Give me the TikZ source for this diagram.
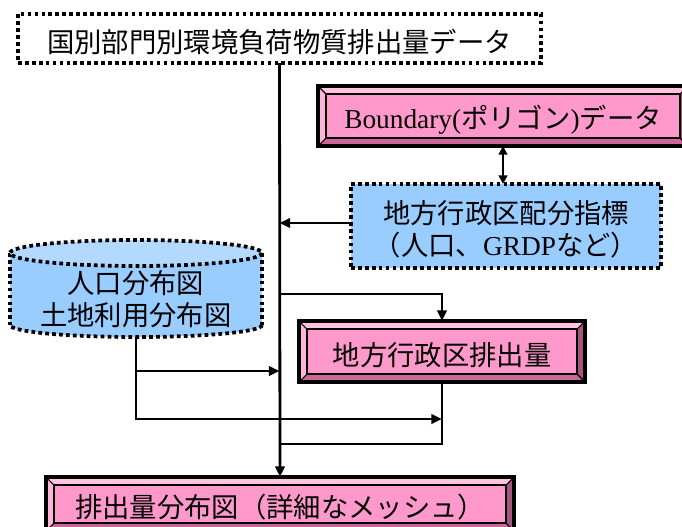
\documentclass[tikz,border=0pt]{standalone}
\usepackage{fontspec}
\setmainfont{Liberation Serif}
\newfontfamily\jp{Noto Sans CJK JP}
\usetikzlibrary{arrows.meta}

\definecolor{pinkfill}{HTML}{FF99CC}
\definecolor{bevtop}{HTML}{FFC2E0}
\definecolor{bevleft}{HTML}{FFB3D9}
\definecolor{bevbot}{HTML}{CC6699}
\definecolor{bevright}{HTML}{A65480}
\definecolor{bluefill}{HTML}{99CCFF}
\definecolor{bluetop}{HTML}{B3D9FF}

\newcommand{\bv}{6pt}
\newcommand{\dn}[1]{\raisebox{-2.5pt}[\height][\depth]{#1}}

\newcommand{\bevelframe}[1]{%
  \fill[bevtop] (#1.north west) -- (#1.north east) -- ([xshift=-\bv,yshift=-\bv]#1.north east) -- ([xshift=\bv,yshift=-\bv]#1.north west) -- cycle;
  \fill[bevleft] (#1.north west) -- ([xshift=\bv,yshift=-\bv]#1.north west) -- ([xshift=\bv,yshift=\bv]#1.south west) -- (#1.south west) -- cycle;
  \fill[bevbot] (#1.south west) -- ([xshift=\bv,yshift=\bv]#1.south west) -- ([xshift=-\bv,yshift=\bv]#1.south east) -- (#1.south east) -- cycle;
  \fill[bevright] (#1.south east) -- ([xshift=-\bv,yshift=\bv]#1.south east) -- ([xshift=-\bv,yshift=-\bv]#1.north east) -- (#1.north east) -- cycle;
  \draw[line width=0.8pt] (#1.north west) -- ([xshift=\bv,yshift=-\bv]#1.north west)
    (#1.north east) -- ([xshift=-\bv,yshift=-\bv]#1.north east)
    (#1.south west) -- ([xshift=\bv,yshift=\bv]#1.south west)
    (#1.south east) -- ([xshift=-\bv,yshift=\bv]#1.south east);
  \draw[line width=2pt] ([xshift=\bv,yshift=-\bv]#1.north west) rectangle ([xshift=-\bv,yshift=\bv]#1.south east);
  \draw[line width=3pt] (#1.north west) rectangle (#1.south east);
}

\begin{document}
\begin{tikzpicture}[x=0.75pt,y=-0.75pt,
  txt/.style={font=\jp\fontsize{20.5}{24}\selectfont, align=center, inner sep=0pt, outer sep=0pt},
  dotline/.style={draw=black, line width=2.8pt, dash pattern=on 2.8pt off 2.4pt},
  dotbox/.style={txt, rectangle, dotline},
  pinkbox/.style={txt, rectangle, fill=pinkfill},
  conn/.style={draw=black, line width=2.1pt},
  arr/.style={conn, -{Triangle[length=8pt,width=7pt]}},
  darr/.style={conn, {Triangle[length=6.5pt,width=6.5pt]}-{Triangle[length=6.5pt,width=6.5pt]}}
]
\useasboundingbox (0,0) rectangle (682,526);
\clip (0,0) rectangle (682,526);

% top data box
\node[dotbox, fill=white, minimum width=392.25pt, minimum height=36.75pt] (top) at (279.5,38.5)
  {\dn{国別部門別環境負荷物質排出量データ}};

% Boundary box
\node[pinkbox, minimum width=277.5pt, minimum height=45pt] (bnd) at (503,116)
  {\dn{{\rmfamily Boundary(}ポリゴン{\rmfamily )}データ}};
\bevelframe{bnd}

% allocation index box
\node[dotbox, fill=bluefill, minimum width=232.5pt, minimum height=63pt] (blue) at (506,226)
  {\dn{地方行政区配分指標}\\\dn{（人口、{\rmfamily GRDP}など）}};

% cylinder
\fill[bluefill] (10,253) rectangle (262,325);
\fill[bluefill] (136,325) ellipse [x radius=126, y radius=12];
\begin{scope}
  \clip (0,325) rectangle (682,345);
  \draw[dotline] (136,325) ellipse [x radius=126, y radius=12];
\end{scope}
\draw[dotline] (10,253) -- (10,325);
\draw[dotline] (262,253) -- (262,325);
\fill[bluetop] (136,253) ellipse [x radius=126, y radius=13];
\draw[dotline] (136,253) ellipse [x radius=126, y radius=13];
\node[txt, minimum width=189pt, minimum height=57pt] (cyl) at (136,299)
  {人口分布図\\土地利用分布図};

% regional emissions box
\node[pinkbox, minimum width=214.5pt, minimum height=45.75pt] (reg) at (442,351.5)
  {\dn{地方行政区排出量}};
\bevelframe{reg}

% output box
\node[pinkbox, minimum width=351pt, minimum height=40.5pt] (bot) at (280,504)
  {\dn{排出量分布図（詳細なメッシュ）}};
\bevelframe{bot}

% junction coordinates
\coordinate (j1) at (280,294);
\coordinate (c1) at (136,371);
\coordinate (j3) at (442,419);
\coordinate (j4) at (280,444);
\coordinate (ja) at ([yshift=2.25pt]blue.west);

% connectors
\draw[arr] (top.south) -- (bot.north);
\draw[darr] (bnd.south) -- (bnd.south |- blue.north);
\draw[arr] (ja) -- (ja -| top.south);
\draw[arr] (j1) -| (reg.north);
\draw[conn] (reg.south) |- (j4);
\draw[arr] (cyl.south) |- (j3);
\draw[arr] (c1) -- (c1 -| top.south);
\end{tikzpicture}
\end{document}
